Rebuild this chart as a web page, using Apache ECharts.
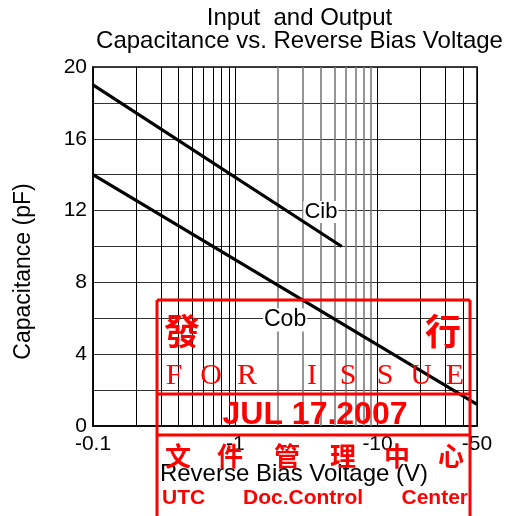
<!DOCTYPE html>
<html>
<head>
<meta charset="utf-8">
<script src="https://cdn.jsdelivr.net/npm/echarts@6/dist/echarts.min.js"></script>
<style>html,body{margin:0;padding:0;background:#fff}#c{width:511px;height:516px}</style>
</head>
<body>
<div id="c"></div>
<script>
// Reverse bias voltage magnitudes (V) and capacitances (pF)
const cibVoltage = [0.1, 5.6];
const cibCap = [19, 10];
const cobVoltage = [0.1, 50];
const cobCap = [14, 1.2];
// Minor vertical grid lines of the log paper (|V|)
const minorGridDark = [0.2, 0.3, 0.4, 0.5, 0.6, 0.7, 0.8, 0.9, 20, 30, 40];
const minorGridGray = [2, 3, 4, 5, 6, 7, 8, 9];
const yLabelValues = [0, 4, 8, 12, 16, 20];

const SANS = 'Liberation Sans, Arial, sans-serif';
const CJK = 'Noto Sans CJK TC, Noto Sans CJK SC, sans-serif';
const SERIF = 'Liberation Serif, DejaVu Serif, serif';
const RED = '#ff0000';

const chart = echarts.init(document.getElementById('c'), null, {renderer: 'canvas'});

function pairs(xs, ys) { return xs.map((x, i) => [x, ys[i]]); }

const stampLetters = [['F',174],['O',211],['R',247],['I',312],['S',348],['S',385],['U',421],['E',455]];
const stampCjk = [['文',178],['件',230],['管',287],['理',343],['中',397],['心',451]];

const graphics = [];
// stamp frame
graphics.push({type:'line', shape:{x1:157,y1:300,x2:470,y2:300}, style:{stroke:RED,lineWidth:3}, z:100});
graphics.push({type:'line', shape:{x1:157,y1:394,x2:470,y2:394}, style:{stroke:RED,lineWidth:3}, z:100});
graphics.push({type:'line', shape:{x1:157,y1:435,x2:470,y2:435}, style:{stroke:RED,lineWidth:3}, z:100});
graphics.push({type:'line', shape:{x1:157,y1:300,x2:157,y2:520}, style:{stroke:RED,lineWidth:3}, z:100});
graphics.push({type:'line', shape:{x1:470,y1:300,x2:470,y2:520}, style:{stroke:RED,lineWidth:3}, z:100});
graphics.push({type:'text', x:182, y:331, style:{text:'發', fill:RED, font:'bold 36px ' + CJK, align:'center', verticalAlign:'middle'}, z:100});
graphics.push({type:'text', x:443, y:331, style:{text:'行', fill:RED, font:'bold 36px ' + CJK, align:'center', verticalAlign:'middle'}, z:100});
stampLetters.forEach(([t, x]) => graphics.push({type:'text', x:x, y:376, style:{text:t, fill:RED, font:'30px ' + SERIF, align:'center', verticalAlign:'middle'}, z:100}));
graphics.push({type:'text', x:315, y:415, style:{text:'JUL 17.2007', fill:RED, font:'bold 32px ' + SANS, align:'center', verticalAlign:'middle'}, z:100});
stampCjk.forEach(([t, x]) => graphics.push({type:'text', x:x, y:456, style:{text:t, fill:RED, font:'bold 26px ' + CJK, align:'center', verticalAlign:'middle'}, z:100}));
graphics.push({type:'text', x:162, y:498, style:{text:'UTC', fill:RED, font:'bold 21px ' + SANS, align:'left', verticalAlign:'middle'}, z:100});
graphics.push({type:'text', x:243, y:498, style:{text:'Doc.Control', fill:RED, font:'bold 21px ' + SANS, align:'left', verticalAlign:'middle'}, z:100});
graphics.push({type:'text', x:468, y:498, style:{text:'Center', fill:RED, font:'bold 21px ' + SANS, align:'right', verticalAlign:'middle'}, z:100});

const option = {
  backgroundColor: '#fff',
  animation: false,
  title: {
    text: 'Input  and Output\nCapacitance vs. Reverse Bias Voltage',
    left: 299.5, top: 7, padding: 0, textAlign: 'center',
    textStyle: {fontFamily: SANS, fontSize: 24, fontWeight: 'normal', color: '#000', lineHeight: 23}
  },
  grid: {left: 93, right: 34, top: 67, bottom: 90, show: true, borderColor: '#000', borderWidth: 1.5, containLabel: false},
  xAxis: {
    type: 'log', logBase: 10, min: 0.1, max: 50,
    name: 'Reverse Bias Voltage (V)', nameLocation: 'middle', nameGap: 36,
    nameTextStyle: {fontFamily: SANS, fontSize: 24, color: '#000', padding: [0, 0, 0, 18]},
    axisLine: {show: true, lineStyle: {color: '#000', width: 1.5}},
    axisTick: {show: false},
    axisLabel: {show: true, showMinLabel: true, showMaxLabel: true, margin: 8, fontFamily: SANS, fontSize: 21, color: '#000',
      formatter: v => '-' + Number(v.toPrecision(3))},
    splitLine: {show: true, lineStyle: {color: '#000', width: 1}}
  },
  yAxis: {
    type: 'value', min: 0, max: 20, interval: 2,
    name: 'Capacitance (pF)', nameLocation: 'middle', nameGap: 58, nameRotate: 90,
    nameTextStyle: {fontFamily: SANS, fontSize: 23, color: '#000', padding: [0, 50, 0, 0]},
    axisLine: {show: true, lineStyle: {color: '#000', width: 1.5}},
    axisTick: {show: false},
    axisLabel: {margin: 6, fontFamily: SANS, fontSize: 21, color: '#000',
      formatter: v => yLabelValues.indexOf(v) >= 0 ? String(v) : ''},
    splitLine: {show: true, lineStyle: {color: '#333', width: 1}}
  },
  series: [
    {
      type: 'line', name: 'grid', data: pairs(cobVoltage, cobCap), showSymbol: false, silent: true, z: 1,
      lineStyle: {opacity: 0},
      markLine: {
        silent: true, symbol: 'none', label: {show: false}, animation: false,
        data: minorGridDark.map(v => ({xAxis: v, lineStyle: {color: '#000', width: 1, type: 'solid'}}))
          .concat(minorGridGray.map(v => ({xAxis: v, lineStyle: {color: '#7a7a7a', width: 1.6, type: 'solid'}})))
      }
    },
    {
      type: 'line', name: 'Cib', data: pairs(cibVoltage, cibCap), showSymbol: false, z: 5,
      lineStyle: {color: '#000', width: 3.2},
      markPoint: {
        symbol: 'rect', symbolSize: 1, itemStyle: {color: 'rgba(0,0,0,0)'},
        label: {show: true, position: 'inside', formatter: 'Cib', fontFamily: SANS, fontSize: 22, color: '#000', backgroundColor: '#fff', padding: [0, 1]},
        data: [{coord: [4.0, 11.92]}]
      }
    },
    {
      type: 'line', name: 'Cob', data: pairs(cobVoltage, cobCap), showSymbol: false, z: 5,
      lineStyle: {color: '#000', width: 3.2},
      markPoint: {
        symbol: 'rect', symbolSize: 1, itemStyle: {color: 'rgba(0,0,0,0)'},
        label: {show: true, position: 'inside', formatter: 'Cob', fontFamily: SANS, fontSize: 23, color: '#000', backgroundColor: '#fff', padding: [0, 1]},
        data: [{coord: [2.24, 5.9]}]
      }
    }
  ],
  graphic: graphics
};
chart.setOption(option);
</script>
</body>
</html>
